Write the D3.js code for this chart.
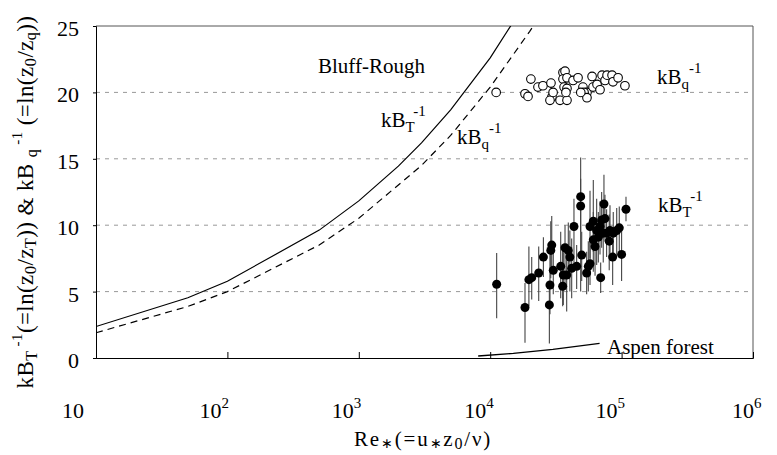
<!DOCTYPE html>
<html><head><meta charset="utf-8">
<script src="https://cdn.jsdelivr.net/npm/d3@7"></script>
<style>
html,body{margin:0;padding:0;background:#fff;}
svg{display:block;font-family:"Liberation Serif","Times New Roman",serif;}
</style></head><body>
<svg id="chart" width="777" height="455"></svg>
<script>
// Bluff-rough model curves
const bluffReT = [10, 50, 100, 500, 1000, 2000, 3000, 5000, 10000, 20000];
const bluffKBT = [2.37, 4.54, 5.78, 9.63, 11.83, 14.45, 16.2, 18.69, 22.6, 27.25];
const bluffReQ = [10, 50, 100, 500, 1000, 3000, 5000, 10000, 20000, 30000];
const bluffKBQ = [1.9, 3.88, 5.0, 8.51, 10.52, 14.5, 16.76, 20.4, 24.6, 27.2];

// Aspen forest curve
const aspenRe = [8100, 15000, 30000, 68000];
const aspenKB = [0.15, 0.35, 0.65, 1.1];

// Observed kBq^-1
const qRe = [11100, 20400, 18400, 19400, 23100, 25200, 29000, 29500, 28500, 34000,
  38400, 35800, 37100, 35800, 38400, 36500, 38400, 37700, 42700, 46600,
  50800, 54500, 51800, 54500, 59600, 60600, 65000, 68500, 71000, 74800,
  77500, 84600, 86000, 94000, 106000, 30100, 48900];
const qKB = [20.0, 21.0, 19.9, 19.7, 20.4, 20.5, 20.7, 19.65, 19.4, 19.4,
  19.4, 21.5, 21.6, 21.0, 21.1, 20.4, 20.3, 20.0, 20.9, 21.1,
  20.4, 20.0, 20.0, 19.6, 21.2, 20.4, 20.6, 20.2, 21.3, 20.9,
  21.3, 21.3, 20.8, 21.1, 20.5, 20.0, 20.0];

// Observed kBT^-1 with low / high ends of the range
const tRe = [11200, 18400, 19700, 20700, 23400, 25400, 28200, 28500, 28900, 29400,
  30200, 34400, 35600, 36000, 37100, 38200, 39300, 40400, 41700, 43400,
  45500, 48800, 48800, 49700, 54200, 55800, 57500, 57500, 60900, 62800,
  60900, 64600, 66500, 69300, 68500, 70500, 73400, 74700, 72500, 76900,
  81600, 80500, 85500, 86400, 91800, 96000, 100000, 108000];
const tKB = [5.55, 3.8, 5.9, 6.05, 6.4, 7.6, 4.0, 5.5, 8.1, 8.5,
  6.6, 6.9, 5.4, 6.25, 8.3, 6.25, 8.1, 7.6, 6.75, 9.9,
  6.9, 12.15, 11.45, 7.75, 6.4, 6.9, 7.1, 9.9, 10.3, 8.4,
  8.9, 9.6, 9.1, 6.05, 9.9, 10.4, 11.6, 10.5, 9.4, 9.4,
  9.6, 8.8, 7.6, 9.4, 9.6, 9.8, 7.8, 11.2];
const tLo = [3.0, 1.15, 3.9, 4.4, 4.3, 6.1, 1.1, 3.3, 6.0, 6.5,
  4.8, 4.5, 3.9, 4.0, 5.5, 3.5, 6.0, 5.0, 4.5, 7.0,
  5.2, 9.5, 5.0, 5.8, 4.8, 5.0, 5.5, 7.5, 8.0, 6.2,
  6.5, 7.0, 7.2, 4.9, 7.8, 8.3, 9.3, 8.8, 7.2, 7.6,
  7.8, 6.6, 5.5, 7.8, 7.7, 8.0, 5.8, 10.3];
const tHi = [7.9, 5.65, 8.4, 7.6, 8.4, 9.1, 5.6, 7.8, 10.3, 10.7,
  8.5, 9.5, 8.1, 8.5, 10.0, 8.6, 10.2, 9.6, 9.0, 12.0,
  8.5, 15.1, 13.5, 9.5, 8.0, 8.8, 9.0, 12.6, 13.4, 10.5,
  11.0, 12.0, 11.0, 7.2, 11.8, 12.5, 13.8, 12.3, 11.4, 11.2,
  11.5, 10.8, 9.4, 11.0, 11.3, 11.4, 9.6, 12.15];

const yTicks = [0, 5, 10, 15, 20, 25];
const yGrid = [5, 10, 15, 20];
const xTickExp = [1, 2, 3, 4, 5, 6];

const svg = d3.select("#chart");
const L = 96, R = 753, T = 26, B = 358;
const x = d3.scaleLog().domain([10, 1e6]).range([L, R]);
const y = d3.scaleLinear().domain([0, 25]).range([B, T]);

svg.append("defs").append("clipPath").attr("id", "plot")
  .append("rect").attr("x", L).attr("y", T).attr("width", R - L).attr("height", B - T);

// dashed grid
svg.append("g").selectAll("line").data(yGrid).join("line")
  .attr("x1", L).attr("x2", R).attr("y1", d => y(d)).attr("y2", d => y(d))
  .attr("stroke", "#999").attr("stroke-width", 1).attr("stroke-dasharray", "4,5");

// frame
svg.append("path").attr("d", `M${L},${T}H${R}V${B}`)
  .attr("fill", "none").attr("stroke", "#555").attr("stroke-width", 1);

// axes
const xAxis = d3.axisBottom(x).tickValues(xTickExp.map(e => Math.pow(10, e)))
  .tickSize(-6).tickFormat("");
svg.append("g").attr("transform", `translate(0,${B})`).call(xAxis)
  .call(g => g.selectAll("line,path").attr("stroke", "#000"));
const yAxis = d3.axisLeft(y).tickValues(yTicks).tickSize(3).tickFormat("");
svg.append("g").attr("transform", `translate(${L},0)`).call(yAxis)
  .call(g => g.selectAll("line,path").attr("stroke", "#000"));

// y tick labels
svg.append("g").selectAll("text").data(yTicks).join("text")
  .attr("x", 79).attr("y", d => y(d) + 10)
  .attr("text-anchor", "end").attr("font-size", 22).text(d => d);

// x tick labels: 10^n, nudged left of their ticks
const labelNudge = [-34, -28, -27, -26, -26, -21];
const xl = svg.append("g").selectAll("text").data(xTickExp).join("text")
  .attr("x", (d, i) => x(Math.pow(10, d)) + labelNudge[i]).attr("y", 418).attr("font-size", 22);
xl.append("tspan").text("10");
xl.filter(d => d > 1).append("tspan").attr("dy", -10).attr("font-size", 15).text(d => d);

// rich text helper: parts are {t, s (shift up), f (size)}
function rich(sel, parts, base) {
  let cur = 0;
  parts.forEach(p => {
    const s = p.s || 0;
    sel.append("tspan").attr("dy", cur - s).attr("font-size", p.f || base).text(p.t);
    cur = s;
  });
}

const line = d3.line().x(d => x(d[0])).y(d => y(d[1]));
const clipG = svg.append("g").attr("clip-path", "url(#plot)");
clipG.append("path").datum(d3.zip(bluffReT, bluffKBT)).attr("d", line)
  .attr("fill", "none").attr("stroke", "#000").attr("stroke-width", 1.2);
clipG.append("path").datum(d3.zip(bluffReQ, bluffKBQ)).attr("d", line)
  .attr("fill", "none").attr("stroke", "#000").attr("stroke-width", 1.2)
  .attr("stroke-dasharray", "7,5");
clipG.append("path").datum(d3.zip(aspenRe, aspenKB)).attr("d", line)
  .attr("fill", "none").attr("stroke", "#000").attr("stroke-width", 1.3);

// kBT^-1 observations with ranges
const tData = tRe.map((r, i) => ({ r, v: tKB[i], lo: tLo[i], hi: tHi[i] }));
svg.append("g").selectAll("line").data(tData).join("line")
  .attr("x1", d => x(d.r)).attr("x2", d => x(d.r))
  .attr("y1", d => y(d.lo)).attr("y2", d => y(d.hi))
  .attr("stroke", "#444").attr("stroke-width", 1.1);
svg.append("g").selectAll("circle").data(tData).join("circle")
  .attr("cx", d => x(d.r)).attr("cy", d => y(d.v)).attr("r", 4.5)
  .attr("fill", "#000");

// kBq^-1 observations
svg.append("g").selectAll("circle").data(d3.zip(qRe, qKB)).join("circle")
  .attr("cx", d => x(d[0])).attr("cy", d => y(d[1])).attr("r", 4.3)
  .attr("fill", "#fff").attr("stroke", "#000").attr("stroke-width", 1.1);

// annotations
const ann = svg.append("g").attr("font-size", 21);
ann.append("text").attr("x", 318).attr("y", 73).text("Bluff-Rough");
rich(ann.append("text").attr("x", 381).attr("y", 127),
  [{ t: "kB" }, { t: "T", s: -5, f: 15 }, { t: "-1", s: 11, f: 15 }], 21);
rich(ann.append("text").attr("x", 457).attr("y", 144),
  [{ t: "kB" }, { t: "q", s: -5, f: 15 }, { t: "-1", s: 11, f: 15 }], 21);
rich(ann.append("text").attr("x", 657).attr("y", 84),
  [{ t: "kB" }, { t: "q", s: -5, f: 15 }, { t: "-1", s: 11, f: 15 }], 21);
rich(ann.append("text").attr("x", 658).attr("y", 212),
  [{ t: "kB" }, { t: "T", s: -5, f: 15 }, { t: "-1", s: 11, f: 15 }], 21);
ann.append("text").attr("x", 607).attr("y", 354).text("Aspen forest");

// axis titles
rich(svg.append("text").attr("text-anchor", "middle").attr("letter-spacing", 0.4)
  .attr("transform", "translate(33,202) rotate(-90)"),
  [{ t: "kB" }, { t: "T", s: -4, f: 16 }, { t: " -1", s: 11, f: 15 },
   { t: "(=ln(z" }, { t: "0", s: -3, f: 17 }, { t: "/z" }, { t: "T", s: -3, f: 16 }, { t: ")) & kB " },
   { t: "q", s: -4, f: 16 }, { t: " -1", s: 11, f: 15 },
   { t: " (=ln(z" }, { t: "0", s: -3, f: 17 }, { t: "/z" }, { t: "q", s: -3, f: 16 }, { t: "))" }], 23);

rich(svg.append("text").attr("x", 423).attr("y", 446).attr("text-anchor", "middle")
  .attr("letter-spacing", 1.8),
  [{ t: "Re" }, { t: "∗", s: -2, f: 14 }, { t: "(=u" }, { t: "∗", s: -2, f: 14 },
   { t: "z" }, { t: "0", s: -3, f: 16 }, { t: "/ν)" }], 21);
</script>
</body></html>
